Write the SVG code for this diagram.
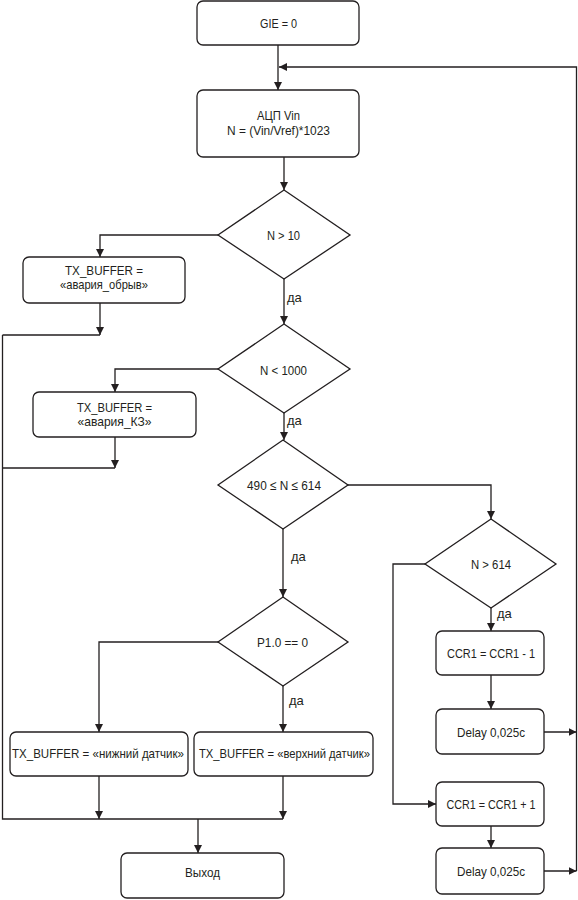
<svg xmlns="http://www.w3.org/2000/svg" width="578" height="900" viewBox="0 0 578 900">
<style>
.box{fill:#fff;stroke:#231f20;stroke-width:1.3}
.ln{fill:none;stroke:#231f20;stroke-width:1.3}
.arr{marker-end:url(#ah)}
text{font-family:"Liberation Sans Narrow","Liberation Sans",Arial,sans-serif;font-size:13.5px;fill:#231f20;text-anchor:middle}
.lbl{text-anchor:start;font-size:13px}
</style>
<defs>
<marker id="ah" markerUnits="userSpaceOnUse" markerWidth="9" markerHeight="9" refX="8" refY="4" orient="auto">
<path d="M0,0 L8,4 L0,8 z" fill="#231f20"/>
</marker>
</defs>
<rect width="578" height="900" fill="#fff"/>
<g id="connectors">
<path class="ln arr" d="M278,45 V90"/>
<path class="ln arr" d="M576.5,871 V67 H279"/>
<path class="ln arr" d="M284,157 V190"/>
<path class="ln arr" d="M218,235 H100 V257"/>
<path class="ln arr" d="M100,303 V335"/>
<path class="ln arr" d="M284,279 V324"/>
<path class="ln arr" d="M218,369 H115 V392"/>
<path class="ln arr" d="M115,437 V468"/>
<path class="ln" d="M2.5,335 H100 M2.5,468 H115"/>
<path class="ln" d="M2.5,335 V819 H283"/>
<path class="ln arr" d="M284,413 V440"/>
<path class="ln arr" d="M348,485 H491 V519"/>
<path class="ln arr" d="M283,529 V597"/>
<path class="ln arr" d="M218,642 H99 V732"/>
<path class="ln arr" d="M283,686 V732"/>
<path class="ln arr" d="M99,776 V819"/>
<path class="ln arr" d="M283,776 V819"/>
<path class="ln arr" d="M198,819 V853"/>
<path class="ln arr" d="M491,608 V631"/>
<path class="ln arr" d="M425,564 H393 V804 H436"/>
<path class="ln arr" d="M491,675 V709"/>
<path class="ln arr" d="M491,826 V848"/>
<path class="ln arr" d="M544,732 H576.5"/>
<path class="ln arr" d="M544,871 H576.5"/>
<text class="lbl" x="287" y="302">да</text>
<text class="lbl" x="287" y="425">да</text>
<text class="lbl" x="291" y="561">да</text>
<text class="lbl" x="497" y="618">да</text>
<text class="lbl" x="289" y="705">да</text>
</g>
<g id="gie">
<rect class="box" x="197" y="1" width="162" height="44" rx="6"/>
<text x="278.5" y="28" textLength="37" lengthAdjust="spacingAndGlyphs">GIE = 0</text>
</g>
<g id="adc">
<rect class="box" x="197" y="90" width="162" height="67" rx="6"/>
<text x="278.5" y="120" textLength="43" lengthAdjust="spacingAndGlyphs">АЦП Vin</text>
<text x="278.5" y="135" textLength="103" lengthAdjust="spacingAndGlyphs">N = (Vin/Vref)*1023</text>
</g>
<g id="d1">
<polygon class="box" points="284,190 350,235 284,279 218,235"/>
<text x="283.5" y="240" textLength="33" lengthAdjust="spacingAndGlyphs">N &gt; 10</text>
</g>
<g id="tx1">
<rect class="box" x="23" y="257" width="162" height="46" rx="6"/>
<text x="104" y="275" textLength="78" lengthAdjust="spacingAndGlyphs">TX_BUFFER =</text>
<text x="104" y="289" textLength="88" lengthAdjust="spacingAndGlyphs">«авария_обрыв»</text>
</g>
<g id="d2">
<polygon class="box" points="284,324 350,369 284,413 218,369"/>
<text x="283.5" y="375" textLength="47" lengthAdjust="spacingAndGlyphs">N &lt; 1000</text>
</g>
<g id="tx2">
<rect class="box" x="33" y="392" width="163" height="45" rx="6"/>
<text x="114.5" y="412" textLength="75" lengthAdjust="spacingAndGlyphs">TX_BUFFER =</text>
<text x="114.5" y="426" textLength="74" lengthAdjust="spacingAndGlyphs">«авария_КЗ»</text>
</g>
<g id="d3">
<polygon class="box" points="283,440 348,485 283,529 218,485"/>
<text x="284" y="490" textLength="74" lengthAdjust="spacingAndGlyphs">490 ≤ N ≤ 614</text>
</g>
<g id="d4">
<polygon class="box" points="491,519 556,564 491,608 425,564"/>
<text x="491" y="569" textLength="40" lengthAdjust="spacingAndGlyphs">N &gt; 614</text>
</g>
<g id="d5">
<polygon class="box" points="283,597 348,642 283,686 218,642"/>
<text x="282.5" y="647" textLength="51" lengthAdjust="spacingAndGlyphs">P1.0 == 0</text>
</g>
<g id="tx3">
<rect class="box" x="10" y="732" width="178" height="44" rx="6"/>
<text x="98" y="758" textLength="172" lengthAdjust="spacingAndGlyphs">TX_BUFFER = «нижний датчик»</text>
</g>
<g id="tx4">
<rect class="box" x="194" y="732" width="179" height="44" rx="6"/>
<text x="284.5" y="758" textLength="171" lengthAdjust="spacingAndGlyphs">TX_BUFFER = «верхний датчик»</text>
</g>
<g id="exit">
<rect class="box" x="121" y="853" width="163" height="45" rx="6"/>
<text x="202.5" y="877" textLength="35" lengthAdjust="spacingAndGlyphs">Выход</text>
</g>
<g id="ccr_dec">
<rect class="box" x="436" y="631" width="108" height="44" rx="6"/>
<text x="491" y="658" textLength="88" lengthAdjust="spacingAndGlyphs">CCR1 = CCR1 - 1</text>
</g>
<g id="delay1">
<rect class="box" x="436" y="709" width="108" height="45" rx="6"/>
<text x="491" y="737" textLength="68" lengthAdjust="spacingAndGlyphs">Delay 0,025c</text>
</g>
<g id="ccr_inc">
<rect class="box" x="436" y="782" width="108" height="44" rx="6"/>
<text x="491" y="809" textLength="89" lengthAdjust="spacingAndGlyphs">CCR1 = CCR1 + 1</text>
</g>
<g id="delay2">
<rect class="box" x="436" y="848" width="108" height="46" rx="6"/>
<text x="491" y="876" textLength="68" lengthAdjust="spacingAndGlyphs">Delay 0,025c</text>
</g>
</svg>
